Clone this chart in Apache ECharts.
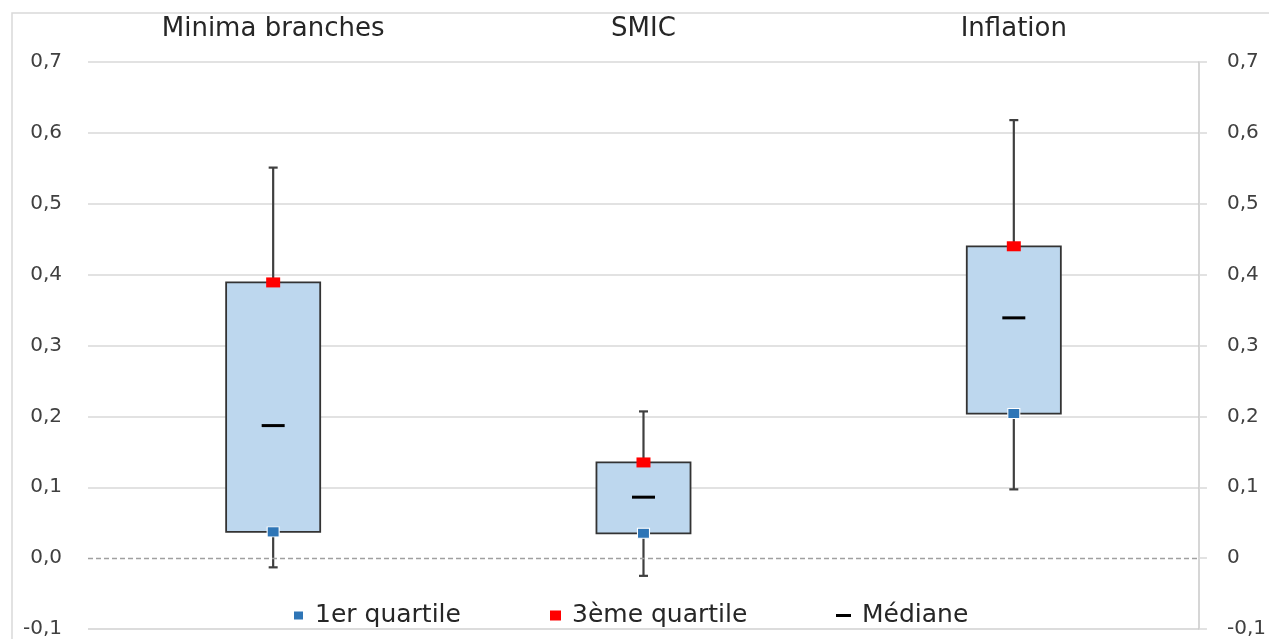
<!DOCTYPE html>
<html>
<head>
<meta charset="utf-8">
<script src="https://cdn.jsdelivr.net/npm/echarts@6/dist/echarts.min.js"></script>
<style>
  html, body { margin: 0; padding: 0; background: #fff; }
  #main { width: 1269px; height: 639px; }
</style>
</head>
<body>
<div id="main"></div>
<script>
var categories = ['Minima branches', 'SMIC', 'Inflation'];
var minVals = [-0.013, -0.025, 0.097];
var q1Vals = [0.037, 0.035, 0.204];
var medianVals = [0.187, 0.086, 0.339];
var q3Vals = [0.389, 0.135, 0.44];
var maxVals = [0.551, 0.207, 0.618];

var fontFam = '"DejaVu Sans", sans-serif';

function fmtLeft(v) {
    return v.toFixed(1).replace('.', ',');
}
function fmtRight(v) {
    if (Math.abs(v) < 1e-9) return '0';
    return v.toFixed(1).replace('.', ',');
}

// boxes and whiskers, positioned through the axes
function renderBox(params, api) {
    var x = api.value(0);
    var pMin = api.coord([x, api.value(1)]);
    var pQ1 = api.coord([x, api.value(2)]);
    var pQ3 = api.coord([x, api.value(4)]);
    var pMax = api.coord([x, api.value(5)]);
    var bw = api.size([1, 0])[0] * 0.254;
    var cap = 4.5;
    var ls = { stroke: '#3f3f3f', lineWidth: 2.2 };
    return {
        type: 'group',
        children: [
            { type: 'line', shape: { x1: pMax[0], y1: pMax[1], x2: pQ3[0], y2: pQ3[1] }, style: ls },
            { type: 'line', shape: { x1: pQ1[0], y1: pQ1[1], x2: pMin[0], y2: pMin[1] }, style: ls },
            { type: 'line', shape: { x1: pMax[0] - cap, y1: pMax[1], x2: pMax[0] + cap, y2: pMax[1] }, style: ls },
            { type: 'line', shape: { x1: pMin[0] - cap, y1: pMin[1], x2: pMin[0] + cap, y2: pMin[1] }, style: ls },
            {
                type: 'rect',
                shape: { x: pQ3[0] - bw / 2, y: pQ3[1], width: bw, height: pQ1[1] - pQ3[1] },
                style: { fill: '#BDD7EE', stroke: '#333333', lineWidth: 1.8 }
            }
        ]
    };
}

var boxData = categories.map(function (c, i) {
    return [i, minVals[i], q1Vals[i], medianVals[i], q3Vals[i], maxVals[i]];
});

var legendText = { fontSize: 25, fontFamily: fontFam, color: '#262626', padding: [0, 0, 0, 6] };

var myChart = echarts.init(document.getElementById('main'));
var option = {
    animation: false,
    backgroundColor: '#fff',
    graphic: [{
        type: 'rect',
        z: -10,
        shape: { x: 12, y: 13, width: 1300, height: 700 },
        style: { fill: 'none', stroke: '#d9d9d9', lineWidth: 1.5 }
    }],
    grid: {
        left: 88,
        right: 69,
        top: 62,
        bottom: 8
    },
    legend: [
        {
            data: ['1er quartile'],
            left: 287, top: 598,
            itemWidth: 11, itemHeight: 10,
            textStyle: legendText
        },
        {
            data: ['3ème quartile'],
            left: 545, top: 598,
            itemWidth: 11, itemHeight: 10,
            textStyle: legendText
        },
        {
            data: ['Médiane'],
            left: 831, top: 598,
            itemWidth: 15, itemHeight: 3,
            textStyle: legendText
        }
    ],
    xAxis: {
        type: 'category',
        position: 'top',
        data: categories,
        axisLine: { show: false },
        axisTick: { show: false },
        axisLabel: {
            margin: 20,
            fontSize: 26,
            fontFamily: fontFam,
            color: '#262626'
        }
    },
    yAxis: [
        {
            type: 'value',
            min: -0.1,
            max: 0.7,
            interval: 0.1,
            position: 'left',
            axisLine: { show: false },
            axisTick: { show: false },
            axisLabel: {
                formatter: fmtLeft,
                margin: 26,
                fontSize: 20,
                fontFamily: fontFam,
                color: '#404040'
            },
            splitLine: {
                show: true,
                lineStyle: {
                    color: ['#d0d0d0', 'rgba(0,0,0,0)', '#d9d9d9', '#d9d9d9', '#d9d9d9',
                        '#d9d9d9', '#d9d9d9', '#d9d9d9', '#d9d9d9'],
                    width: 1.5
                }
            }
        },
        {
            type: 'value',
            min: -0.1,
            max: 0.7,
            interval: 0.1,
            position: 'right',
            axisLine: { show: true, lineStyle: { color: '#c8c8c8', width: 1.5 } },
            axisTick: { show: true, length: 8, lineStyle: { color: '#d9d9d9', width: 1.5 } },
            axisLabel: {
                formatter: fmtRight,
                margin: 28,
                fontSize: 20,
                fontFamily: fontFam,
                color: '#404040'
            },
            splitLine: { show: false }
        }
    ],
    series: [
        {
            type: 'custom',
            name: 'boites',
            renderItem: renderBox,
            encode: { x: 0, y: [1, 2, 3, 4, 5] },
            data: boxData,
            z: 2,
            markLine: {
                silent: true,
                symbol: 'none',
                label: { show: false },
                lineStyle: { color: '#a0a0a0', type: [5, 3], width: 1.3 },
                data: [{ yAxis: 0 }]
            }
        },
        {
            type: 'scatter',
            name: '1er quartile',
            data: q1Vals,
            symbol: 'rect',
            symbolSize: [12, 10],
            itemStyle: { color: '#2E75B6', borderColor: '#ffffff', borderWidth: 1, opacity: 1 },
            z: 5
        },
        {
            type: 'scatter',
            name: '3ème quartile',
            data: q3Vals,
            symbol: 'rect',
            symbolSize: [14, 10],
            itemStyle: { color: '#FF0000', opacity: 1 },
            z: 5
        },
        {
            type: 'scatter',
            name: 'Médiane',
            data: medianVals,
            symbol: 'rect',
            symbolSize: [23, 3],
            itemStyle: { color: '#000000', opacity: 1 },
            z: 5
        }
    ]
};
myChart.setOption(option);
</script>
</body>
</html>
